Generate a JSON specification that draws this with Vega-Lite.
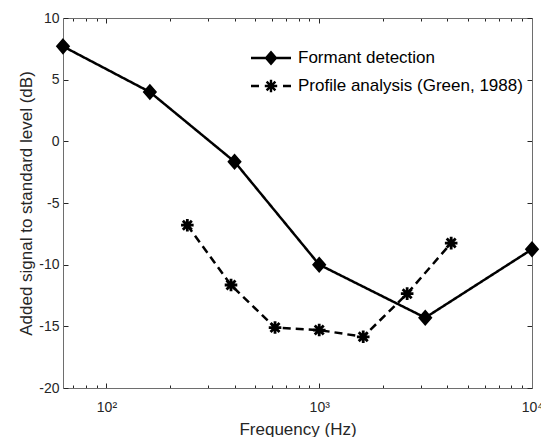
{
  "$schema": "https://vega.github.io/schema/vega-lite/v6.json",
  "width": 469,
  "height": 370,
  "autosize": "none",
  "padding": {"left": 63, "top": 18, "right": 9, "bottom": 49},
  "background": "white",
  "config": {
    "view": {"stroke": null},
    "font": "Liberation Sans",
    "axis": {
      "grid": false,
      "domainColor": "#6e6e6e",
      "tickColor": "#262626",
      "labelColor": "#262626",
      "titleColor": "#262626",
      "labelFont": "Liberation Sans",
      "titleFont": "Liberation Sans",
      "labelFontSize": 14,
      "titleFontSize": 17,
      "titleFontWeight": "normal",
      "domainWidth": 1,
      "tickWidth": 1
    }
  },
  "data": {
    "values": [
      {"series": "Formant detection", "freq": 62.5, "level": 7.7},
      {"series": "Formant detection", "freq": 160, "level": 4.0},
      {"series": "Formant detection", "freq": 400, "level": -1.65},
      {"series": "Formant detection", "freq": 1000, "level": -10.0},
      {"series": "Formant detection", "freq": 3150, "level": -14.3},
      {"series": "Formant detection", "freq": 10000, "level": -8.75},
      {"series": "Profile analysis (Green, 1988)", "freq": 240, "level": -6.8},
      {"series": "Profile analysis (Green, 1988)", "freq": 385, "level": -11.65},
      {"series": "Profile analysis (Green, 1988)", "freq": 620, "level": -15.1},
      {"series": "Profile analysis (Green, 1988)", "freq": 1000, "level": -15.3},
      {"series": "Profile analysis (Green, 1988)", "freq": 1610, "level": -15.85},
      {"series": "Profile analysis (Green, 1988)", "freq": 2590, "level": -12.35},
      {"series": "Profile analysis (Green, 1988)", "freq": 4170, "level": -8.25}
    ]
  },
  "layer": [
    {
      "mark": {"type": "line", "color": "black", "strokeWidth": 2.5},
      "encoding": {
        "x": {
          "field": "freq", "type": "quantitative",
          "scale": {"type": "log", "domain": [62.5, 10000], "nice": false},
          "title": "Frequency (Hz)",
          "axis": {
            "values": [70, 80, 90, 100, 200, 300, 400, 500, 600, 700, 800, 900, 1000, 2000, 3000, 4000, 5000, 6000, 7000, 8000, 9000, 10000],
            "tickSize": {"condition": {"test": "indexof([100, 1000, 10000], datum.value) >= 0", "value": -5}, "value": -3},
            "labelExpr": "datum.value == 100 ? '10²' : datum.value == 1000 ? '10³' : datum.value == 10000 ? '10⁴' : ''",
            "labelPadding": 17,
            "titlePadding": 5,
            "labelFlush": false,
            "labelOverlap": false
          }
        },
        "y": {
          "field": "level", "type": "quantitative",
          "scale": {"domain": [-20, 10], "nice": false},
          "title": "Added signal to standard level (dB)",
          "axis": {
            "values": [-20, -15, -10, -5, 0, 5, 10],
            "tickSize": -5,
            "labelExpr": "replace(datum.label, '−', '-')",
            "labelPadding": 9,
            "titlePadding": 3
          }
        },
        "detail": {"field": "series"},
        "strokeDash": {
          "field": "series", "type": "nominal",
          "scale": {"range": [[1, 0], [8, 5]]},
          "legend": null
        }
      }
    },
    {
      "mark": {"type": "point", "filled": true, "fill": "black", "stroke": "black", "opacity": 1, "size": 144},
      "encoding": {
        "x": {"field": "freq", "type": "quantitative", "axis": null},
        "y": {"field": "level", "type": "quantitative", "axis": null},
        "shape": {
          "field": "series", "type": "nominal",
          "scale": {"range": ["M0,-1.15L1,0L0,1.15L-1,0Z", "M0,-1.05V1.05M-1.05,0H1.05M-0.75,-0.75L0.75,0.75M-0.75,0.75L0.75,-0.75"]},
          "legend": null
        },
        "strokeWidth": {
          "field": "series", "type": "ordinal",
          "scale": {"range": [1.8, 2.8]},
          "legend": null
        }
      }
    },
    {
      "mark": {"type": "point", "filled": true, "fill": "black", "opacity": 0, "size": 400},
      "encoding": {
        "x": {
          "field": "freq", "type": "quantitative",
          "axis": {
            "orient": "top", "title": null, "labels": false,
            "values": [70, 80, 90, 100, 200, 300, 400, 500, 600, 700, 800, 900, 1000, 2000, 3000, 4000, 5000, 6000, 7000, 8000, 9000, 10000],
            "tickSize": {"condition": {"test": "indexof([100, 1000, 10000], datum.value) >= 0", "value": -5}, "value": -3}
          }
        },
        "y": {
          "field": "level", "type": "quantitative",
          "axis": {
            "orient": "right", "title": null, "labels": false,
            "values": [-20, -15, -10, -5, 0, 5, 10],
            "tickSize": -5
          }
        },
        "shape": {
          "field": "series", "type": "nominal",
          "scale": {"range": [
            "M-2,-0.12H2V0.12H-2ZM0,-0.75L0.65,0L0,0.75L-0.65,0Z",
            "M-2,-0.12H-1.2V0.12H-2ZM1.2,-0.12H2V0.12H1.2ZM-0.12,-0.62H0.12V0.62H-0.12ZM-0.62,-0.12H0.62V0.12H-0.62ZM-0.355,-0.525L0.525,0.355L0.355,0.525L-0.525,-0.355ZM-0.525,0.355L0.355,-0.525L0.525,-0.355L-0.355,0.525Z"
          ]},
          "legend": {
            "title": null,
            "orient": "none",
            "legendX": 197,
            "legendY": 29,
            "padding": 0,
            "symbolSize": 400,
            "symbolOpacity": 1,
            "symbolFillColor": "black",
            "rowPadding": 6,
            "labelOffset": 16,
            "labelFontSize": 17,
            "labelFont": "Liberation Sans",
            "labelColor": "black",
            "labelLimit": 400
          }
        }
      }
    }
  ],
  "resolve": {
    "axis": {"x": "independent", "y": "independent"},
    "scale": {"shape": "independent", "strokeWidth": "independent"}
  }
}
